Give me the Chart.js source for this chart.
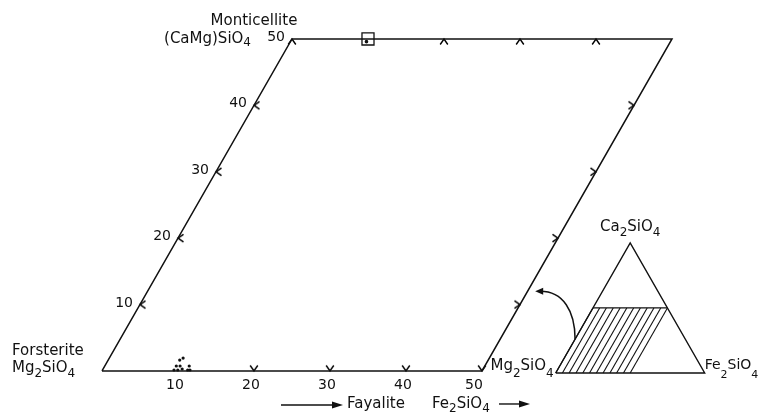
<!DOCTYPE html>
<html>
<head>
<meta charset="utf-8">
<script src="https://cdn.jsdelivr.net/npm/chart.js@4.4.1/dist/chart.umd.min.js"></script>
<style>
  html, body { margin: 0; padding: 0; background: #fff; }
  #wrap { width: 760px; height: 417px; }
</style>
</head>
<body>
<div id="wrap"><canvas id="chart" width="760" height="417"></canvas></div>
<script>
// main diagram, mol % [Fa, Mo]
const fayaliteTicks = [10, 20, 30, 40, 50];
const monticelliteTicks = [10, 20, 30, 40, 50];
const bottomMarks = [20, 30, 40, 50];
const topMarks = [0, 20, 30, 40];
const leftMarks = [10, 20, 30, 40];
const rightMarks = [10, 20, 30, 40];
const outlineFa = [0, 50, 50, 0, 0];
const outlineMo = [0, 0, 50, 50, 0];

// analysed olivines
const olivineFa = [9.4, 9.4, 9.9, 9.9, 9.4, 9.7, 10.4, 11.2, 11.5, 11.1];
const olivineMo = [0.15, 0.75, 0.15, 0.75, 1.65, 1.95, 0.3, 0.15, 0.15, 0.75];
// analysed monticellite
const monticelliteFa = [10];
const monticelliteMo = [49.6];

// inset Ca2SiO4 - Mg2SiO4 - Fe2SiO4, % [Fe, Ca]
const insetFe = [0, 100, 0, 0];
const insetCa = [0, 0, 100, 0];
const hatchFe = [0, 4.5, 9, 13.6, 18.2, 22.7, 27.3, 31.8, 36.4, 40.9, 45.5, 50];
const hatchCa = [0, 50];

// layout of the inset inside the main frame
const INSET_X = 59.7, INSET_Y = -0.3, INSET_SIDE = 19.6;
const INK = '#111';
const FONT = '"DejaVu Sans", sans-serif';

const tern = (fa, mo) => ({ x: fa + mo / 2, y: mo });
const inset = (fe, ca) => ({
  x: INSET_X + INSET_SIDE * (fe + ca / 2) / 100,
  y: INSET_Y + INSET_SIDE * ca / 100
});

function chevron() {
  const c = document.createElement('canvas');
  c.width = 14; c.height = 14;
  const g = c.getContext('2d');
  g.strokeStyle = '#000';
  g.lineWidth = 1.4;
  g.beginPath();
  g.moveTo(3.2, 12.5);
  g.lineTo(7, 7);
  g.lineTo(10.8, 12.5);
  g.stroke();
  return c;
}
const mark = chevron();

const line = (data, width = 1.5) => ({
  data, showLine: true, borderColor: INK, borderWidth: width, pointRadius: 0, tension: 0
});
const marks = (data, rotation) => ({
  data, pointStyle: mark, pointRotation: rotation, pointRadius: 7
});

const datasets = [
  line(outlineFa.map((f, i) => tern(f, outlineMo[i]))),
  marks(bottomMarks.map(t => tern(t, 0)), 180),
  marks(topMarks.map(t => tern(t, 50)), 0),
  marks(leftMarks.map(t => tern(0, t)), -90),
  marks(rightMarks.map(t => tern(50, t)), 90),
  {
    data: monticelliteFa.map(f => tern(f, 50)),
    pointStyle: 'rect', pointRadius: 8.5, pointBorderWidth: 1.3,
    pointBorderColor: INK, pointBackgroundColor: 'rgba(0,0,0,0)'
  },
  {
    data: monticelliteFa.map((f, i) => tern(f, monticelliteMo[i])),
    pointStyle: 'circle', pointRadius: 1.8, pointBorderWidth: 0,
    pointBackgroundColor: INK
  },
  {
    data: olivineFa.map((f, i) => tern(f, olivineMo[i])),
    pointStyle: 'circle', pointRadius: 1.6, pointBorderWidth: 0,
    pointBackgroundColor: INK
  },
  line(insetFe.map((f, i) => inset(f, insetCa[i])), 1.4),
  line([inset(0, hatchCa[1]), inset(hatchFe[hatchFe.length - 1], hatchCa[1])], 1.4),
  ...hatchFe.map(f => line(hatchCa.map(c => inset(f, c)), 1.1))
];

function rich(ctx, parts, x, y, align, size, drop = 6) {
  const sub = Math.round(size * 0.8);
  let w = 0;
  parts.forEach((p, i) => {
    ctx.font = `${i % 2 ? sub : size}px ${FONT}`;
    w += ctx.measureText(p).width;
  });
  let cx = align === 'right' ? x - w : align === 'center' ? x - w / 2 : x;
  ctx.textAlign = 'left';
  parts.forEach((p, i) => {
    ctx.font = `${i % 2 ? sub : size}px ${FONT}`;
    ctx.fillText(p, cx, i % 2 ? y + drop : y);
    cx += ctx.measureText(p).width;
  });
}

function arrow(ctx, x1, x2, y) {
  ctx.beginPath();
  ctx.moveTo(x1, y);
  ctx.lineTo(x2 - 6, y);
  ctx.stroke();
  ctx.beginPath();
  ctx.moveTo(x2, y);
  ctx.lineTo(x2 - 11, y - 3.5);
  ctx.lineTo(x2 - 11, y + 3.5);
  ctx.closePath();
  ctx.fill();
}

const labels = {
  id: 'labels',
  afterDraw(chart) {
    const { ctx, scales: { x, y } } = chart;
    const P = p => [x.getPixelForValue(p.x), y.getPixelForValue(p.y)];
    ctx.save();
    ctx.fillStyle = INK;
    ctx.strokeStyle = INK;
    ctx.lineWidth = 1.4;
    ctx.textBaseline = 'alphabetic';

    ctx.font = `14px ${FONT}`;
    ctx.textAlign = 'center';
    fayaliteTicks.forEach(t => {
      const [px, py] = P(tern(t, 0));
      ctx.fillText(String(t), px - (t === 50 ? 8 : 3), py + 18);
    });
    ctx.textAlign = 'right';
    monticelliteTicks.forEach(t => {
      const [px, py] = P(tern(0, t));
      ctx.fillText(String(t), px - 7, py + 2);
    });

    const [ox, oy] = P(tern(0, 0));
    const [tx, ty] = P(tern(0, 50));
    ctx.font = `15px ${FONT}`;
    ctx.textAlign = 'center';
    ctx.fillText('Monticellite', tx - 38, ty - 14);
    rich(ctx, ['(CaMg)SiO', '4'], tx - 41, ty + 4, 'right', 15, 3);
    ctx.font = `15px ${FONT}`;
    ctx.textAlign = 'left';
    ctx.fillText('Forsterite', ox - 90, oy - 16);
    rich(ctx, ['Mg', '2', 'SiO', '4'], ox - 90, oy + 1, 'left', 15, 5);

    // axis caption
    const cy = oy + 37;
    arrow(ctx, ox + 179, ox + 241, cy - 3);
    ctx.font = `15px ${FONT}`;
    ctx.textAlign = 'left';
    ctx.fillText('Fayalite', ox + 245, cy);
    rich(ctx, ['Fe', '2', 'SiO', '4'], ox + 330, cy, 'left', 15, 4);
    arrow(ctx, ox + 397, ox + 428, cy - 4);

    // inset labels
    const [ax, ay] = P(inset(0, 100));
    const [mx, my] = P(inset(0, 0));
    const [fx, fy] = P(inset(100, 0));
    rich(ctx, ['Ca', '2', 'SiO', '4'], ax, ay - 12, 'center', 15, 5);
    rich(ctx, ['Mg', '2', 'SiO', '4'], mx - 2, my - 3, 'right', 15, 7);
    rich(ctx, ['Fe', '2', 'SiO', '4'], fx, fy - 4, 'left', 14, 9);

    // curved arrow from the hatched field to the main diagram
    const [sx, sy] = P(inset(0, 26));
    const [ex, ey] = P(tern(51, 12));
    ctx.lineWidth = 1.5;
    ctx.beginPath();
    ctx.moveTo(sx, sy);
    ctx.bezierCurveTo(sx, sy - 28, ex + 28, ey, ex + 5, ey);
    ctx.stroke();
    ctx.beginPath();
    ctx.moveTo(ex, ey);
    ctx.lineTo(ex + 8, ey - 3.5);
    ctx.lineTo(ex + 8, ey + 3.5);
    ctx.closePath();
    ctx.fill();
    ctx.restore();
  }
};

new Chart(document.getElementById('chart'), {
  type: 'scatter',
  data: { datasets },
  options: {
    responsive: false,
    devicePixelRatio: 1,
    animation: false,
    layout: { padding: 0, autoPadding: false },
    plugins: { legend: { display: false }, tooltip: { enabled: false } },
    scales: {
      x: { type: 'linear', display: false, min: -13.42, max: 86.58 },
      y: { type: 'linear', display: false, min: -6.93, max: 55.87 }
    }
  },
  plugins: [labels]
});
</script>
</body>
</html>
